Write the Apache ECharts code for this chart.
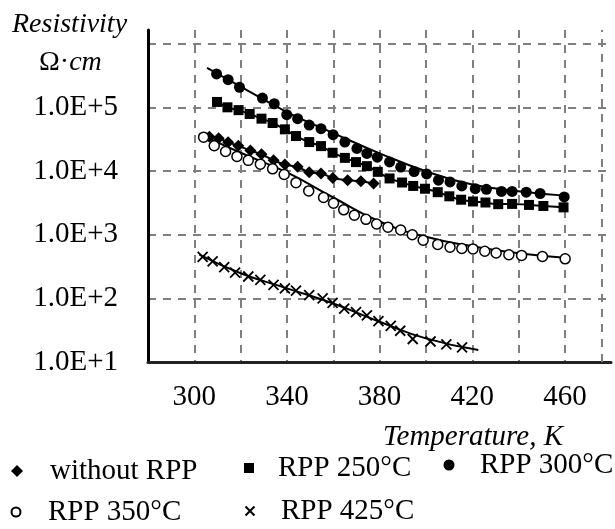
<!DOCTYPE html>
<html>
<head>
<meta charset="utf-8">
<script src="https://cdn.jsdelivr.net/npm/echarts@6/dist/echarts.min.js"></script>
<style>
  html, body { margin: 0; padding: 0; background: #fff; }
  #chart { width: 615px; height: 529px; }
</style>
</head>
<body>
<div id="chart"></div>
<script>
// [temperature K, resistivity Ohm*cm]
const withoutRpp = [
  [306.5, 34700], [310.5, 33100], [314.6, 28500], [319, 25100], [324.2, 21100],
  [329, 18400], [334.2, 14900], [339.1, 12700], [344.6, 11700], [349.6, 9640],
  [354.7, 9180], [359.8, 7850], [366.2, 7210], [371.9, 6950], [377.4, 6380]
];
const rpp250 = [
  [309.8, 122700], [314.3, 101000], [319.1, 91200], [323.9, 79400], [329, 67000],
  [333.8, 57300], [339.1, 45500], [343.9, 35700], [349.6, 28700], [354.7, 24800],
  [359.7, 19500], [365, 16200], [369.8, 13900], [374.5, 12000], [379.2, 9770],
  [384.3, 7690], [389.7, 6640], [394.5, 5860], [399.6, 5300], [405.1, 4680],
  [410.1, 4030], [415.2, 3560], [420.3, 3340], [425.7, 3220], [431.2, 3030],
  [437.2, 3060], [444.5, 2950], [450.7, 2840], [459.4, 2700]
];
const rpp300 = [
  [309.6, 339000], [314.6, 275000], [319.5, 209000], [329.4, 141000], [334.5, 115000],
  [339.9, 77400], [344.6, 67000], [349.6, 53200], [354.7, 46600], [359.9, 37500],
  [365, 28700], [370.2, 22800], [374.5, 19000], [379, 16600], [384.3, 14000],
  [389.1, 11600], [394.9, 9890], [400.3, 9060], [405.4, 7230], [410.4, 6790],
  [415.5, 5860], [421.3, 5300], [426.1, 5180], [432.6, 4800], [437.2, 4800],
  [443.3, 4680], [449.3, 4460], [459.7, 3940]
];
const rpp300Fit = [
  [305.5, 422000], [320, 214000], [340, 85100], [360, 39800], [380, 19100],
  [400, 10000], [420, 6170], [440, 4850], [460, 4130]
];
const rpp350 = [
  [304, 34300], [308.6, 25100], [313.5, 20400], [318.4, 17100], [323.3, 14800],
  [328.5, 12900], [333.8, 10900], [338.8, 8870], [343.9, 6610], [349.4, 4900],
  [355.8, 3860], [360.1, 3140], [364.5, 2470], [369.1, 2030], [374.1, 1750],
  [378.7, 1480], [383.6, 1320], [389.1, 1190], [394.1, 1000], [398.8, 820],
  [405.1, 706], [410.4, 638], [415.5, 608], [420.3, 600], [425.4, 551],
  [430.3, 518], [435.8, 485], [441.3, 474], [450.3, 456], [460.1, 419]
];
const rpp350Fit = [
  [303.6, 36600], [320, 19500], [340, 9550], [360, 3860], [380, 1620],
  [400, 929], [420, 661], [440, 513], [460, 437]
];
const rpp425 = [
  [303.6, 448], [307.9, 382], [312.9, 310], [317.6, 255], [323.3, 221],
  [328.5, 195], [334.2, 163], [339.1, 144], [343.9, 132], [349.6, 113],
  [355.4, 100], [359.7, 85], [364.7, 69], [369.8, 61], [374.5, 54],
  [379.5, 44], [384.8, 37], [388.9, 31], [394.3, 23], [402, 21],
  [408.8, 19], [415.6, 17]
];
const rpp425Fit = [
  [302.2, 488], [320, 249], [340, 144], [360, 83], [380, 43], [400, 23.5], [422.6, 15.4]
];
const xLabels = [300, 340, 380, 420, 460];

const FONT = '"Liberation Serif", "Times New Roman", serif';
const crossPath = 'path://M0,0L10,10M10,0L0,10';
const dashed = { type: [8, 7], color: '#808080', width: 2 };

const chart = echarts.init(document.getElementById('chart'), null, { renderer: 'canvas' });

// one legend per entry so each can sit where the original puts it
function legendItem(name, left, top, size, padLeft, padTop) {
  return {
    data: [name],
    left: left,
    top: top,
    padding: 0,
    itemWidth: size,
    itemHeight: size,
    selectedMode: false,
    textStyle: {
      fontFamily: FONT, fontSize: 29, color: '#000', lineHeight: 32,
      padding: [padTop, 0, 0, padLeft]
    }
  };
}

function fitLine(name, data) {
  return {
    name: name, type: 'line', data: data, smooth: true, symbol: 'none',
    lineStyle: { color: '#000', width: 2 }, z: 2, silent: true
  };
}

chart.setOption({
  animation: false,
  backgroundColor: '#fff',
  textStyle: { fontFamily: FONT },
  title: [
    { text: 'Resistivity', left: 12, top: 9, padding: 0,
      textStyle: { fontFamily: FONT, fontSize: 28, fontStyle: 'italic', fontWeight: 'normal', color: '#000', lineHeight: 32 } },
    { text: '{u|Ω·}{i|cm}', left: 39, top: 47, padding: 0,
      textStyle: {
        fontWeight: 'normal',
        rich: {
          u: { fontFamily: FONT, fontSize: 28, fontWeight: 'normal', color: '#000', lineHeight: 32 },
          i: { fontFamily: FONT, fontSize: 28, fontStyle: 'italic', fontWeight: 'normal', color: '#000', lineHeight: 32 }
        }
      } },
    { text: 'Temperature, K', right: 52, top: 421, padding: 0,
      textStyle: { fontFamily: FONT, fontSize: 29, fontStyle: 'italic', fontWeight: 'normal', color: '#000', lineHeight: 32 } }
  ],
  legend: [
    legendItem('without RPP', 11, 450, 12, 22, 10),
    legendItem('RPP 250°C', 244, 444, 10, 19, 16),
    legendItem('RPP 300°C', 443.5, 438, 11, 20.5, 22),
    legendItem('RPP 350°C', 10.5, 492, 9, 22.5, 8),
    legendItem('RPP 425°C', 244.5, 490, 9, 21.5, 10)
  ],
  grid: { left: 148, right: 4, top: 30, bottom: 167 },
  xAxis: {
    type: 'value', min: 280, max: 479.9, interval: 20,
    axisLine: { onZero: false, lineStyle: { color: '#222', width: 3 } },
    axisTick: { show: false },
    axisLabel: {
      margin: 21, fontSize: 29, fontFamily: FONT, color: '#000',
      formatter: v => (xLabels.indexOf(Math.round(v)) >= 0 && Math.abs(v - Math.round(v)) < 1e-6 ? String(Math.round(v)) : '')
    },
    splitLine: { show: true, showMinLine: false, showMaxLine: false, lineStyle: dashed }
  },
  yAxis: {
    type: 'log', logBase: 10, min: 10, max: 1.66e6,
    axisLine: { show: true, lineStyle: { color: '#000', width: 3 } },
    axisTick: { show: false },
    axisLabel: {
      margin: 30, fontSize: 29, fontFamily: FONT, color: '#000',
      formatter: v => {
        const e = Math.log10(v);
        const r = Math.round(e);
        if (Math.abs(e - r) > 1e-6 || r > 5) return '';
        return '1.0E+' + r;
      }
    },
    splitLine: { show: true, showMinLine: false, showMaxLine: false, lineStyle: dashed }
  },
  series: [
    fitLine('fit without', withoutRpp),
    fitLine('fit 250', rpp250),
    fitLine('fit 300', rpp300Fit),
    fitLine('fit 350', rpp350Fit),
    fitLine('fit 425', rpp425Fit),
    {
      name: 'without RPP', type: 'scatter', data: withoutRpp, symbol: 'diamond', symbolSize: 12,
      itemStyle: { color: '#000', opacity: 1 }, z: 5,
      markLine: {
        silent: true, symbol: 'none', label: { show: false },
        lineStyle: { type: [8, 7], color: '#808080', width: 2 },
        data: [{ xAxis: 476 }]
      }
    },
    {
      name: 'RPP 250°C', type: 'scatter', data: rpp250, symbol: 'rect', symbolSize: 10,
      itemStyle: { color: '#000', opacity: 1 }, z: 5
    },
    {
      name: 'RPP 300°C', type: 'scatter', data: rpp300, symbol: 'circle', symbolSize: 11,
      itemStyle: { color: '#000', opacity: 1 }, z: 5
    },
    {
      name: 'RPP 350°C', type: 'scatter', data: rpp350, symbol: 'circle', symbolSize: 10,
      itemStyle: { color: '#fff', borderColor: '#000', borderWidth: 1.5, opacity: 1 }, z: 6
    },
    {
      name: 'RPP 425°C', type: 'scatter', data: rpp425, symbol: crossPath, symbolSize: 10,
      itemStyle: { color: 'transparent', borderColor: '#000', borderWidth: 1.8, opacity: 1 }, z: 5
    }
  ]
});
</script>
</body>
</html>
